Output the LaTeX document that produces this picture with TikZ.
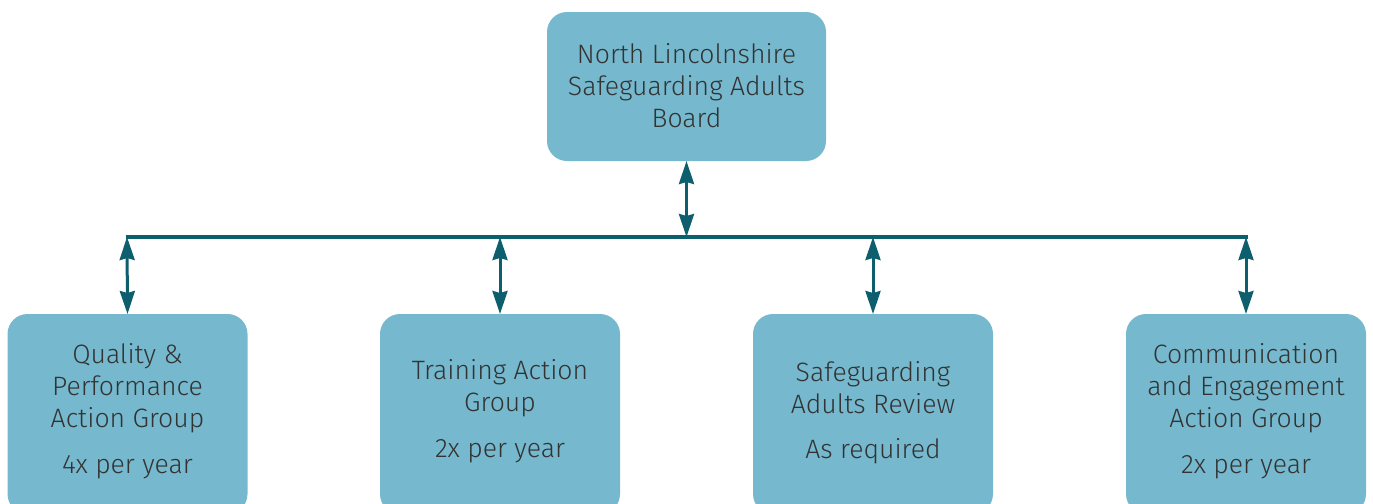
\documentclass[tikz,border=0pt]{standalone}
\usepackage{fontspec}
\setmainfont{Fira Sans}[UprightFont={* Light}]
\usetikzlibrary{arrows.meta}
\definecolor{boxc}{HTML}{76B9CF}
\definecolor{linec}{HTML}{0E5F6E}
\definecolor{txtc}{HTML}{333333}
\begin{document}
\begin{tikzpicture}[x=0.5pt,y=-0.5pt,
  boxs/.style={draw=none,fill=boxc,rounded corners=10pt,inner sep=0pt,outer sep=0pt},
  txt/.style={text=txtc,font=\fontsize{13.3}{16}\selectfont,align=center,inner sep=0pt},
  conn/.style={draw=linec,line width=1.5pt,{Stealth[length=11.5pt,width=7.5pt,inset=1pt]}-{Stealth[length=11.5pt,width=7.5pt,inset=1pt]}},
  bar/.style={draw=linec,line width=2pt}]
\useasboundingbox (0,0) rectangle (1373,504);
\begin{scope}
\clip (0,0) rectangle (1373,504);
\node[boxs,minimum width=139.5pt,minimum height=74.5pt] (top) at (686.5,86.5) {};
\node[boxs,minimum width=120pt,minimum height=100pt,anchor=north] (b1) at (127.5,314) {};
\node[boxs,minimum width=120pt,minimum height=100pt,anchor=north] (b2) at (500,314) {};
\node[boxs,minimum width=120pt,minimum height=100pt,anchor=north] (b3) at (873,314) {};
\node[boxs,minimum width=120pt,minimum height=100pt,anchor=north] (b4) at (1246,314) {};
\end{scope}
\node[txt] (ttop) at (686.5,86) {North Lincolnshire\\Safeguarding Adults\\Board};
\node[txt] (t1) at (127.5,388) {Quality \&\\Performance\\Action Group};
\node[txt] (f1) at (127.5,467) {4x per year};
\node[txt] (t2) at (500,388) {Training Action\\Group};
\node[txt] (f2) at (500,451) {2x per year};
\node[txt] (t3) at (873,388) {Safeguarding\\Adults Review};
\node[txt] (f3) at (873,451) {As required};
\node[txt] (t4) at (1246,388) {Communication\\and Engagement\\Action Group};
\node[txt] (f4) at (1246,467) {2x per year};
\coordinate (L) at (127,237);
\coordinate (R) at (1246,237);
\coordinate (M) at (686.5,237);
\coordinate (m2) at (500,237);
\coordinate (m3) at (873,237);
\draw[bar] ([xshift=-0.75pt]L) -- ([xshift=0.75pt]R);
\draw[conn] (top.south) -- (M);
\draw[conn] (L) -- (b1.north);
\draw[conn] (m2) -- (b2.north);
\draw[conn] (m3) -- (b3.north);
\draw[conn] (R) -- (b4.north);
\end{tikzpicture}
\end{document}
